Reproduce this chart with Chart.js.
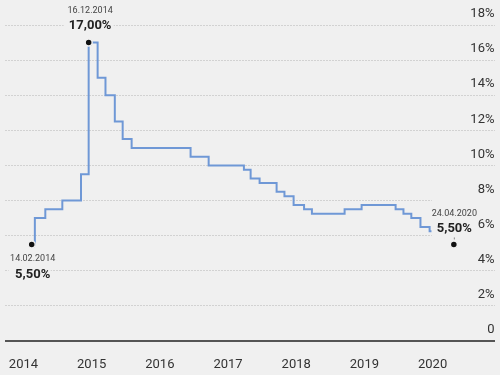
<!DOCTYPE html>
<html><head><meta charset="utf-8">
<script src="https://cdn.jsdelivr.net/npm/chart.js@4"></script>
<style>html,body{margin:0;padding:0;background:#f0f0f0;overflow:hidden;} #wrap{width:500px;height:375px;}</style>
</head><body><div id="wrap"><canvas id="c" width="500" height="375"></canvas></div>
<script>
// Key rate change dates and the new value set on each date
const rateDates = ['2014-03-01','2014-03-03','2014-04-28','2014-07-28','2014-11-05','2014-12-16',
  '2015-02-02','2015-03-16','2015-05-05','2015-06-16','2015-08-03','2016-06-14','2016-09-19',
  '2017-03-27','2017-05-02','2017-06-19','2017-09-18','2017-10-30','2017-12-18',
  '2018-02-12','2018-03-26','2018-09-17','2018-12-17',
  '2019-06-17','2019-07-29','2019-09-09','2019-10-28','2019-12-16','2019-12-26'];
const rateValues = [5.5,7.0,7.5,8.0,9.5,17.0,
  15.0,14.0,12.5,11.5,11.0,10.5,10.0,
  9.75,9.25,9.0,8.5,8.25,7.75,
  7.5,7.25,7.5,7.75,
  7.5,7.25,7.0,6.5,6.25,6.25];
const yearTicks = [2014,2015,2016,2017,2018,2019,2020];
const percentTicks = [0,2,4,6,8,10,12,14,16,18];
const annoDates = ['2014-02-14','2014-12-16','2020-04-24'];
const annoValues = [5.5,17,5.5];
const annoDateLabels = ['14.02.2014','16.12.2014','24.04.2020'];
const annoValueLabels = ['5,50%','17,00%','5,50%'];

function toYear(s){
  const [y,m,d] = s.split('-').map(Number);
  const a = Date.UTC(y,0,1), b = Date.UTC(y+1,0,1);
  return y + (Date.UTC(y,m-1,d) - a) / (b - a);
}

const BG = '#f0f0f0';
const FONT = 'Roboto, "Liberation Sans", sans-serif';

const annoLayout = [
  {mask:[-23,6,19,38], dateDy:14, valueDy:30, dx:1, tick:false},
  {mask:[-25,-38,25,-8], dateDy:-32, valueDy:-17, dx:1.5, tick:false},
  {mask:[-22,-48,60,-4], dateDy:-31, valueDy:-15.5, dx:0.5, tick:true}
];

const annoPlugin = {
  id: 'anno',
  beforeDatasetsDraw(chart){
    const ctx = chart.ctx, xs = chart.scales.x, ys = chart.scales.y;
    ctx.save();
    ctx.fillStyle = BG;
    annoDates.forEach((d,i)=>{
      const X = xs.getPixelForValue(toYear(d)), Y = ys.getPixelForValue(annoValues[i]);
      const m = annoLayout[i].mask;
      ctx.fillRect(X+m[0], Y+m[1], m[2]-m[0], m[3]-m[1]);
    });
    ctx.restore();
  },
  afterDatasetsDraw(chart){
    const ctx = chart.ctx, xs = chart.scales.x, ys = chart.scales.y;
    ctx.save();
    ctx.textAlign = 'center';
    ctx.textBaseline = 'middle';
    annoDates.forEach((d,i)=>{
      const X = xs.getPixelForValue(toYear(d)), Y = ys.getPixelForValue(annoValues[i]);
      const L = annoLayout[i];
      ctx.fillStyle = '#444';
      ctx.font = '9px ' + FONT;
      ctx.fillText(annoDateLabels[i], X + L.dx, Y + L.dateDy);
      ctx.fillStyle = '#222';
      ctx.font = 'bold 13px ' + FONT;
      ctx.fillText(annoValueLabels[i], X + L.dx, Y + L.valueDy);
      if (L.tick){
        ctx.strokeStyle = '#888';
        ctx.lineWidth = 1;
        ctx.beginPath();
        ctx.moveTo(X+0.5, Y-7); ctx.lineTo(X+0.5, Y-5);
        ctx.stroke();
      }
    });
    ctx.restore();
  }
};

new Chart(document.getElementById('c'), {
  type: 'line',
  data: {
    datasets: [
      {
        data: annoDates.map((d,i)=>({x: toYear(d), y: annoValues[i]})),
        showLine: false,
        pointRadius: 3.5,
        pointBackgroundColor: '#111',
        pointBorderColor: BG,
        pointBorderWidth: 1.5,
        order: 1
      },
      {
        data: rateDates.map((d,i)=>({x: toYear(d), y: rateValues[i]})),
        stepped: true,
        borderColor: '#6f98d6',
        borderWidth: 2,
        pointRadius: 0,
        fill: false,
        order: 2
      }
    ]
  },
  options: {
    responsive: false,
    devicePixelRatio: 1,
    animation: false,
    layout: {padding: {top: 25, left: 5, right: 5, bottom: 0}},
    plugins: {legend: {display: false}, tooltip: {enabled: false}},
    scales: {
      x: {
        type: 'linear',
        min: 2013.7366,
        max: 2020.9077,
        afterBuildTicks(s){ s.ticks = yearTicks.map(v=>({value:v})); },
        afterFit(s){ s.height = 34; },
        grid: {display: false},
        border: {display: true, color: '#555', width: 2},
        ticks: {
          autoSkip: false, maxRotation: 0, padding: 8,
          color: '#333', font: {size: 13, family: FONT},
          callback: v => String(v)
        }
      },
      y: {
        type: 'linear',
        position: 'right',
        min: 0, max: 18,
        afterBuildTicks(s){ s.ticks = percentTicks.map(v=>({value:v})); },
        afterFit(s){ s.width = 0; },
        grid: {color: '#b4b4b4', lineWidth: 1, drawTicks: false},
        border: {display: false, dash: [1,2]},
        ticks: {
          mirror: true, padding: 0, labelOffset: -11, z: 1,
          color: '#333', font: {size: 13, family: FONT},
          callback: v => v === 0 ? '0' : v + '%'
        }
      }
    }
  },
  plugins: [annoPlugin]
});
</script>
</body></html>
